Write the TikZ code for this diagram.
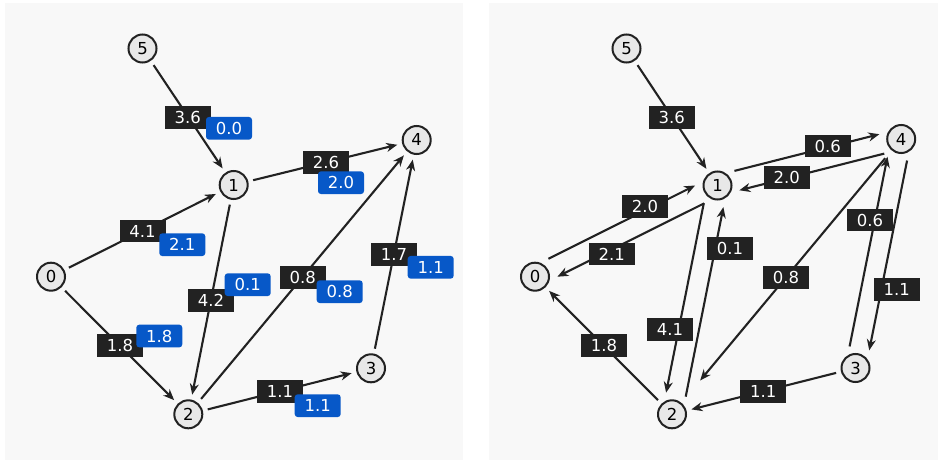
\documentclass[tikz,border=0pt]{standalone}
\usepackage{fontspec}
\setmainfont{DejaVu Sans}
\usetikzlibrary{arrows.meta,calc}
\definecolor{ink}{HTML}{222222}
\definecolor{panel}{HTML}{F8F8F8}
\definecolor{nodefill}{HTML}{E8E8E8}
\definecolor{blueb}{HTML}{0758C8}
\newcommand\lblfont{\fontsize{16.5}{19}\selectfont}
\tikzset{
  vert/.style={circle, draw=ink, fill=nodefill, line width=2pt, minimum size=28pt, inner sep=0pt, font=\lblfont, text=black, text height=12pt, text depth=0pt},
  edge/.style={draw=ink, line width=2.1pt, -{Stealth[length=11pt,width=9pt,inset=3.5pt]}, shorten >=5pt, shorten <=5pt},
  oedge/.style={draw=ink, line width=2.1pt, -{Stealth[length=11pt,width=9pt,inset=3.5pt]}},
  wbox/.style={fill=ink, text=white, minimum width=46pt, minimum height=22.7pt, inner sep=0pt, text height=12pt, text depth=0pt, font=\lblfont},
  bbox/.style={wbox, fill=blueb, rounded corners=3pt},
}
\begin{document}
\begin{tikzpicture}[x=1pt,y=-1pt]
\useasboundingbox (0,0) rectangle (938,460);
\fill[panel] (5,3) rectangle (463,460);
\fill[panel] (489,3) rectangle (938,460);
% left panel
\node[vert] (n5) at (142.5,48.5) {5};
\node[vert] (n1) at (233.7,185) {1};
\node[vert] (n4) at (416.7,140) {4};
\node[vert] (n0) at (51,276.7) {0};
\node[vert] (n2) at (188.3,414.3) {2};
\node[vert] (n3) at (371,368.3) {3};
\draw[edge] (n5) -- (n1);
\draw[edge] (n1) -- (n4);
\draw[edge] (n0) -- (n1);
\draw[edge] (n0) -- (n2);
\draw[edge] (n1) -- (n2);
\draw[edge] (n2) -- (n4);
\draw[edge] (n3) -- (n4);
\draw[edge] (n2) -- (n3);
\node[wbox] (a51) at (187.8,117.3) {3.6};
\node[wbox] (a14) at (326,162.3) {2.6};
\node[wbox] (a01) at (142.5,231) {4.1};
\node[wbox] (a02) at (120,345.3) {1.8};
\node[wbox] (a12) at (211,300.3) {4.2};
\node[wbox] (a24) at (302.7,277.3) {0.8};
\node[wbox] (a34) at (394,254.3) {1.7};
\node[wbox] (a23) at (280,391.7) {1.1};
\node[bbox] (b51) at (229,128.3) {0.0};
\node[bbox] (b14) at (341,182.7) {2.0};
\node[bbox] (b01) at (182.3,244.7) {2.1};
\node[bbox] (b02) at (159.3,336) {1.8};
\node[bbox] (b12) at (247.7,284.7) {0.1};
\node[bbox] (b24) at (339.7,291.7) {0.8};
\node[bbox] (b34) at (430.7,267.3) {1.1};
\node[bbox] (b23) at (317.7,405.7) {1.1};
% right panel
\node[vert] (m5) at (626.5,48.5) {5};
\node[vert] (m1) at (717.5,185.5) {1};
\node[vert] (m4) at (901.2,139) {4};
\node[vert] (m0) at (535,276.7) {0};
\node[vert] (m2) at (672,414.3) {2};
\node[vert] (m3) at (855.5,368) {3};
\draw[edge] (m5) -- (m1);
\draw[oedge] ($(m1)!20pt!(m4)!10pt!90:(m4)$) -- ($(m4)!20pt!(m1)!10pt!-90:(m1)$);
\draw[oedge] ($(m4)!20pt!(m1)!10pt!90:(m1)$) -- ($(m1)!20pt!(m4)!10pt!-90:(m4)$);
\draw[oedge] ($(m0)!20pt!(m1)!10pt!90:(m1)$) -- ($(m1)!20pt!(m0)!10pt!-90:(m0)$);
\draw[oedge] ($(m1)!20pt!(m0)!10pt!90:(m0)$) -- ($(m0)!20pt!(m1)!10pt!-90:(m1)$);
\draw[oedge] ($(m1)!20pt!(m2)!10pt!-90:(m2)$) -- ($(m2)!20pt!(m1)!10pt!90:(m1)$);
\draw[oedge] ($(m2)!20pt!(m1)!10pt!-90:(m1)$) -- ($(m1)!20pt!(m2)!10pt!90:(m2)$);
\draw[oedge] ($(m3)!20pt!(m4)!10pt!90:(m4)$) -- ($(m4)!20pt!(m3)!10pt!-90:(m3)$);
\draw[oedge] ($(m4)!20pt!(m3)!10pt!90:(m3)$) -- ($(m3)!20pt!(m4)!10pt!-90:(m4)$);
\draw[oedge] ($(m4)!25pt!(m2)$) -- ($(m2)!44pt!(m4)$);
\draw[edge] (m3) -- (m2);
\draw[edge] (m2) -- (m0);
\node[wbox] (c51) at (671.7,117.3) {3.6};
\node[wbox] (c14) at (827.7,146) {0.6};
\node[wbox] (c41) at (786.7,177.3) {2.0};
\node[wbox] (c01) at (645,206.7) {2.0};
\node[wbox] (c10) at (611.7,254) {2.1};
\node[wbox] (c21) at (730,248.3) {0.1};
\node[wbox] (c12) at (670,329.3) {4.1};
\node[wbox] (c42) at (786,277.3) {0.8};
\node[wbox] (c20) at (604,345.3) {1.8};
\node[wbox] (c32) at (763.3,391.7) {1.1};
\node[wbox] (c34) at (870,220) {0.6};
\node[wbox] (c43) at (896.7,289.3) {1.1};
\end{tikzpicture}
\end{document}
